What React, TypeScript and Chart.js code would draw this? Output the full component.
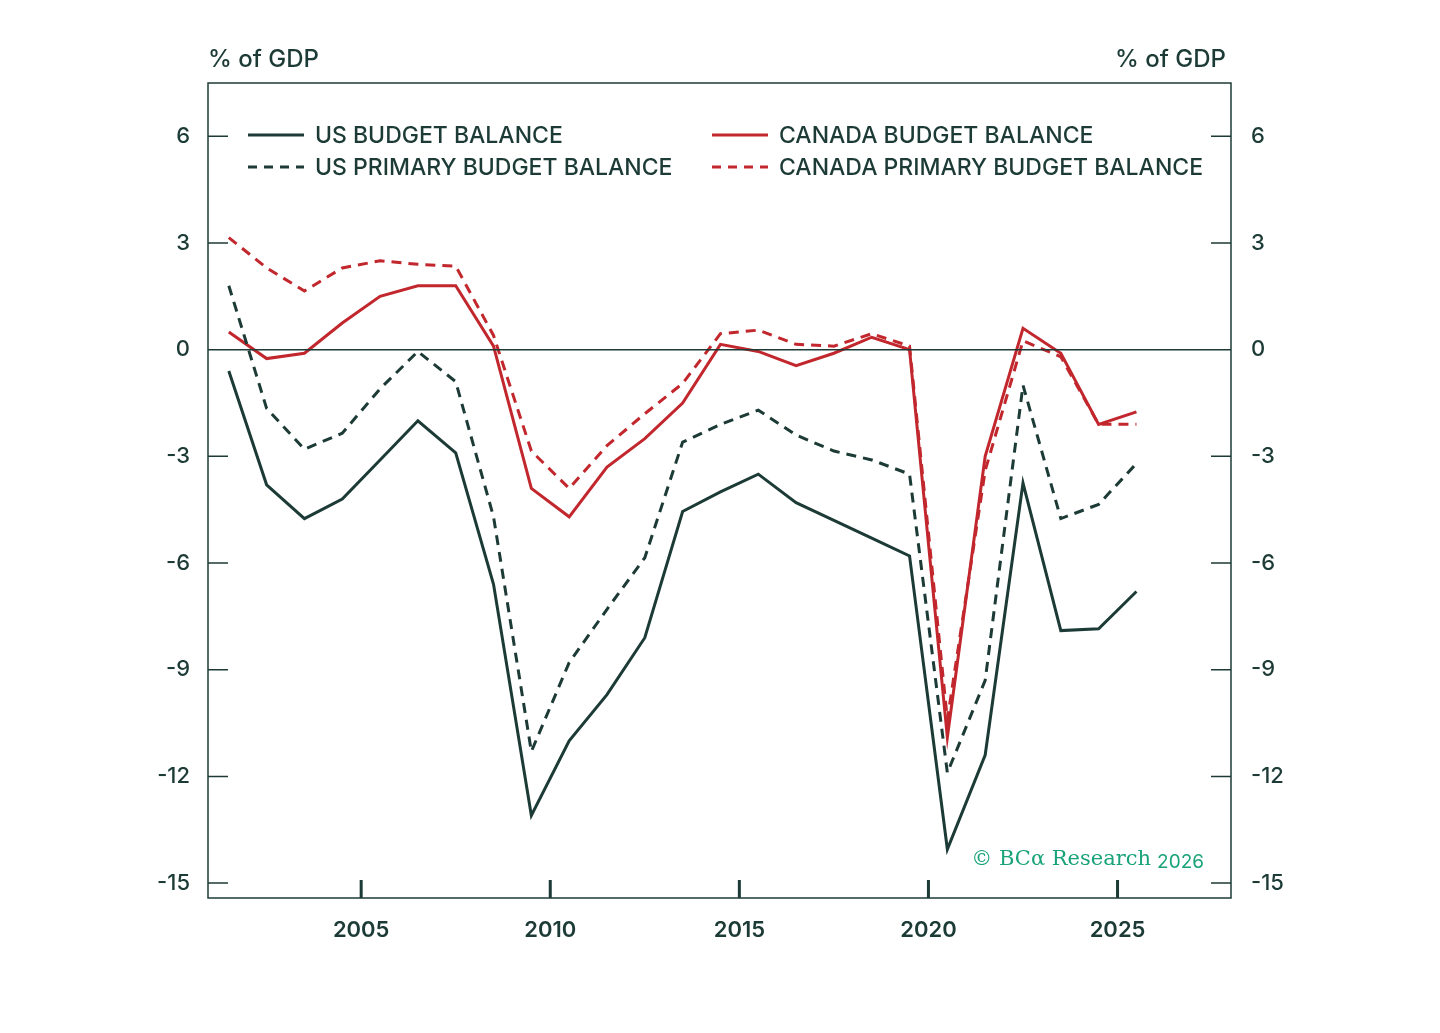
import React, { useEffect, useRef } from "react";
import { Chart, registerables } from "chart.js";
Chart.register(...registerables);

const years = [2001,2002,2003,2004,2005,2006,2007,2008,2009,2010,2011,2012,2013,2014,2015,2016,2017,2018,2019,2020,2021,2022,2023,2024,2025];
const usBalance = [-0.6,-3.8,-4.75,-4.2,-3.1,-2.0,-2.9,-6.6,-13.1,-11.0,-9.7,-8.1,-4.55,-4.0,-3.5,-4.3,-4.8,-5.3,-5.8,-14.05,-11.4,-3.75,-7.9,-7.85,-6.8];
const usPrimary = [1.8,-1.65,-2.8,-2.35,-1.1,-0.05,-0.9,-4.7,-11.3,-8.8,-7.3,-5.85,-2.6,-2.1,-1.7,-2.4,-2.85,-3.1,-3.5,-11.9,-9.3,-1.0,-4.75,-4.35,-3.2];
const caBalance = [0.5,-0.25,-0.1,0.75,1.5,1.8,1.8,0.1,-3.9,-4.7,-3.3,-2.5,-1.5,0.15,-0.05,-0.45,-0.1,0.35,0,-10.9,-3.0,0.6,-0.1,-2.1,-1.75];
const caPrimary = [3.15,2.3,1.65,2.3,2.5,2.4,2.35,0.4,-2.85,-3.9,-2.7,-1.8,-0.95,0.45,0.55,0.15,0.1,0.45,0.1,-10.4,-3.4,0.25,-0.2,-2.1,-2.1];
const yTicks = [6,3,0,-3,-6,-9,-12,-15];
const xTicks = [2005,2010,2015,2020,2025];

const DARK = "#1d3b36";
const RED = "#c1272d";
const FONT = "Inter, 'Open Sans', sans-serif";

const pts = (v: number[]) => v.map((y, i) => ({ x: years[i] + 0.5, y }));

export default function App() {
  const ref = useRef<HTMLCanvasElement>(null);
  useEffect(() => {
    const deco = {
      id: "deco",
      afterDatasetsDraw(c: any) {
        const ctx = c.ctx, a = c.chartArea;
        const y = c.scales.y, x = c.scales.x;
        ctx.save();
        ctx.strokeStyle = DARK; ctx.lineWidth = 1.5;
        ctx.strokeRect(a.left, a.top, a.right - a.left, a.bottom - a.top);
        ctx.beginPath();
        const z = y.getPixelForValue(0);
        ctx.moveTo(a.left, z); ctx.lineTo(a.right, z);
        yTicks.forEach(t => {
          const p = y.getPixelForValue(t);
          ctx.moveTo(a.left, p); ctx.lineTo(a.left + 20, p);
          ctx.moveTo(a.right, p); ctx.lineTo(a.right - 20, p);
        });
        ctx.stroke();
        ctx.lineWidth = 3; ctx.beginPath();
        xTicks.forEach(t => {
          const p = x.getPixelForValue(t);
          ctx.moveTo(p, a.bottom); ctx.lineTo(p, a.bottom - 18);
        });
        ctx.stroke();
        ctx.fillStyle = DARK;
        ctx.font = `500 24px ${FONT}`;
        ctx.textBaseline = "middle";
        ctx.textAlign = "left"; ctx.fillText("% of GDP", 208, 60);
        ctx.textAlign = "right"; ctx.fillText("% of GDP", 1226, 60);
        const items = [
          { t: "US BUDGET BALANCE", c: DARK, d: [], x: 248, y: 135 },
          { t: "US PRIMARY BUDGET BALANCE", c: DARK, d: [9, 7], x: 248, y: 167 },
          { t: "CANADA BUDGET BALANCE", c: RED, d: [], x: 712, y: 135 },
          { t: "CANADA PRIMARY BUDGET BALANCE", c: RED, d: [9, 7], x: 712, y: 167 },
        ];
        ctx.textAlign = "left";
        ctx.font = `500 23px ${FONT}`;
        items.forEach(it => {
          ctx.strokeStyle = it.c; ctx.lineWidth = 3; ctx.setLineDash(it.d);
          ctx.beginPath(); ctx.moveTo(it.x, it.y); ctx.lineTo(it.x + 56, it.y); ctx.stroke();
          ctx.setLineDash([]);
          ctx.fillStyle = DARK; ctx.fillText(it.t, it.x + 67, it.y + 1);
        });
        ctx.fillStyle = "#1aa37a";
        ctx.textAlign = "right";
        ctx.font = `19px ${FONT}`;
        ctx.fillText("2026", 1204, 862);
        const w = ctx.measureText("2026").width;
        ctx.font = `21px 'DejaVu Serif', 'Liberation Serif', serif`;
        ctx.fillText("© BCα Research", 1204 - w - 6, 860);
        ctx.restore();
      },
    };
    const ds = (label: string, data: number[], color: string, dash: number[]) => ({
      label, data: pts(data), borderColor: color, borderWidth: 3, borderDash: dash,
      pointRadius: 0, tension: 0, yAxisID: "y",
    });
    const chart = new Chart(ref.current!, {
      type: "line",
      data: {
        datasets: [
          ds("US PRIMARY BUDGET BALANCE", usPrimary, DARK, [10, 7]),
          ds("US BUDGET BALANCE", usBalance, DARK, []),
          ds("CANADA PRIMARY BUDGET BALANCE", caPrimary, RED, [10, 7]),
          ds("CANADA BUDGET BALANCE", caBalance, RED, []),
        ],
      },
      options: {
        animation: false, responsive: false, maintainAspectRatio: false,
        layout: { padding: { top: 83, left: 0, right: 0, bottom: 0 } },
        plugins: { legend: { display: false }, tooltip: { enabled: false } },
        scales: {
          x: {
            type: "linear", min: 2000.95, max: 2028,
            afterFit: (s: any) => { s.height = 135; },
            afterBuildTicks: (s: any) => { s.ticks = xTicks.map(v => ({ value: v })); },
            grid: { display: false }, border: { display: false },
            ticks: { color: DARK, padding: 11, font: { family: FONT, size: 22, weight: "600" }, callback: (v: any) => String(v) },
          },
          y: {
            min: -15.42, max: 7.5, position: "left",
            afterFit: (s: any) => { s.width = 208; },
            afterBuildTicks: (s: any) => { s.ticks = yTicks.map(v => ({ value: v })); },
            grid: { display: false }, border: { display: false },
            ticks: { color: DARK, padding: 10, font: { family: FONT, size: 22, weight: "500" } },
          },
          y2: {
            min: -15.42, max: 7.5, position: "right",
            afterFit: (s: any) => { s.width = 209; },
            afterBuildTicks: (s: any) => { s.ticks = yTicks.map(v => ({ value: v })); },
            grid: { display: false }, border: { display: false },
            ticks: { color: DARK, padding: 12, font: { family: FONT, size: 22, weight: "500" } },
          },
        },
      },
      plugins: [deco],
    } as any);
    return () => chart.destroy();
  }, []);
  return (
    <div style={{ position: "fixed", left: 0, top: 0, width: 1440, height: 1033, background: "#fff" }}>
      <canvas ref={ref} width={1440} height={1033} style={{ width: 1440, height: 1033 }} />
    </div>
  );
}
